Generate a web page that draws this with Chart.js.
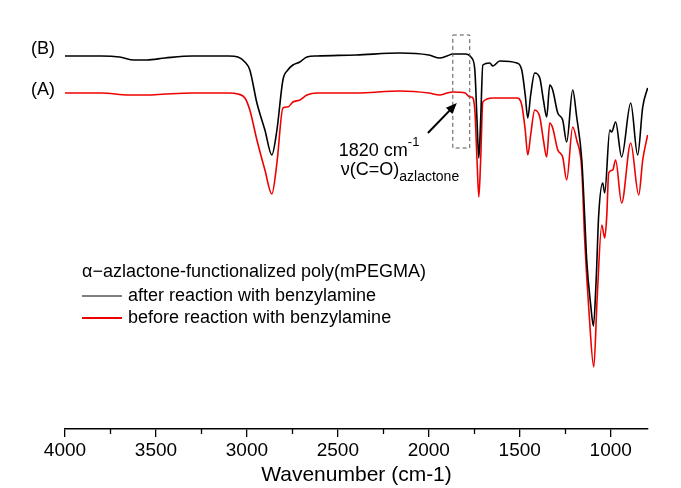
<!DOCTYPE html>
<html lang="en">
<head>
<meta charset="UTF-8">
<title>FTIR spectra</title>
<script src="https://cdn.jsdelivr.net/npm/chart.js"></script>
<style>
    body { margin: 0; background: #fff; }
    #wrap { width: 681px; height: 488px; }
</style>
</head>
<body>
<div id="wrap"><canvas id="myChart"></canvas></div>
<script>
    // (B) after reaction with benzylamine
    var wnB = [4000, 3800, 3700, 3620, 3550, 3450, 3300, 3100, 3049, 3011, 2984, 2945, 2901, 2863, 2835, 2802, 2775, 2747, 2709, 2670, 2615, 2400, 2159, 2000, 1940, 1900, 1868, 1800, 1764, 1747, 1735, 1725, 1715, 1703, 1665, 1648, 1610, 1516, 1489, 1470, 1456, 1440, 1418, 1390, 1370, 1352, 1335, 1319, 1291, 1264, 1242, 1209, 1187, 1159, 1143, 1132, 1110, 1095, 1080, 1066, 1044, 1033, 1005, 995, 973, 940, 890, 852, 824, 797];
    var tB = [93.25, 93.25, 93.0, 92.25, 92.25, 92.75, 93.25, 93.25, 93.0, 91.75, 89.75, 81.5, 74.75, 68.5, 74.75, 87.25, 89.75, 91.0, 91.75, 93.0, 93.25, 93.5, 94.0, 93.5, 92.75, 93.25, 93.75, 93.75, 92.75, 89.75, 77.25, 67.75, 77.25, 91.0, 91.5, 90.75, 92.0, 91.5, 89.75, 83.5, 77.75, 83.5, 89.0, 87.75, 82.25, 78.0, 86.0, 84.75, 79.0, 77.25, 71.75, 84.75, 78.0, 67.25, 53.0, 42.25, 31.0, 25.75, 37.25, 53.5, 61.5, 59.0, 74.75, 74.25, 76.75, 68.0, 81.5, 68.5, 80.5, 85.25];

    // (A) before reaction with benzylamine
    var wnA = [4000, 3800, 3650, 3550, 3450, 3300, 3100, 3049, 3011, 2984, 2945, 2901, 2863, 2835, 2802, 2775, 2747, 2709, 2670, 2615, 2400, 2159, 2000, 1940, 1900, 1868, 1800, 1775, 1764, 1747, 1735, 1725, 1715, 1703, 1648, 1516, 1489, 1470, 1456, 1440, 1418, 1390, 1370, 1352, 1335, 1319, 1291, 1264, 1242, 1209, 1187, 1159, 1143, 1120, 1093, 1075, 1049, 1033, 1022, 1011, 989, 973, 940, 890, 846, 824, 797];
    var tA = [84.0, 84.0, 83.5, 83.5, 83.75, 84.0, 84.0, 83.75, 82.75, 79.75, 72.25, 64.75, 58.75, 66.5, 80.25, 80.5, 81.75, 82.25, 83.5, 84.0, 84.0, 84.5, 84.0, 83.5, 84.0, 84.25, 84.0, 83.0, 83.0, 79.75, 67.25, 58.0, 67.25, 81.75, 82.75, 82.75, 81.0, 74.75, 68.5, 73.5, 79.75, 78.0, 72.25, 68.0, 76.5, 75.25, 69.75, 68.0, 62.25, 75.5, 72.25, 64.75, 47.25, 29.75, 15.5, 32.25, 51.0, 47.75, 53.0, 64.0, 64.75, 67.25, 56.5, 71.5, 58.5, 67.25, 73.5];

    var xTicks = [4000, 3500, 3000, 2500, 2000, 1500, 1000];
    var xMinor = [3750, 3250, 2750, 2250, 1750, 1250];

    var FONT = "'Liberation Sans', Arial, sans-serif";

    function pts(xs, ys) {
        return xs.map(function (v, i) { return {x: v, y: ys[i]}; });
    }

    // minor ticks, (A)/(B) tags, 1820 annotation and the legend
    const extras = {
        id: 'extras',
        afterDraw(chart) {
            const ctx = chart.ctx;
            const x = chart.scales.x, y = chart.scales.y;
            const area = chart.chartArea;
            ctx.save();

            // minor ticks
            ctx.strokeStyle = '#000';
            ctx.lineWidth = 1.3;
            xMinor.forEach(function (v) {
                const p = Math.round(x.getPixelForValue(v)) + 0.5;
                ctx.beginPath();
                ctx.moveTo(p, area.bottom);
                ctx.lineTo(p, area.bottom + 5);
                ctx.stroke();
            });

            // (B) / (A)
            ctx.fillStyle = '#000';
            ctx.font = '18px ' + FONT;
            ctx.textAlign = 'center';
            ctx.textBaseline = 'middle';
            ctx.fillText('(B)', x.getPixelForValue(4000) - 22, y.getPixelForValue(tB[0]) - 7);
            ctx.fillText('(A)', x.getPixelForValue(4000) - 22, y.getPixelForValue(tA[0]) - 3);

            // dashed box around 1820
            ctx.strokeStyle = '#555';
            ctx.lineWidth = 1;
            ctx.setLineDash([4, 3]);
            const bx0 = x.getPixelForValue(1868), bx1 = x.getPixelForValue(1775);
            const by0 = y.getPixelForValue(98.5), by1 = y.getPixelForValue(70.25);
            ctx.strokeRect(bx0, by0, bx1 - bx0, by1 - by0);
            ctx.setLineDash([]);

            // arrow
            const ax0 = x.getPixelForValue(2005), ay0 = y.getPixelForValue(74);
            const ax1 = x.getPixelForValue(1846), ay1 = y.getPixelForValue(81.5);
            const ang = Math.atan2(ay1 - ay0, ax1 - ax0);
            ctx.strokeStyle = '#000';
            ctx.lineWidth = 2;
            ctx.beginPath();
            ctx.moveTo(ax0, ay0);
            ctx.lineTo(ax1 - 6 * Math.cos(ang), ay1 - 6 * Math.sin(ang));
            ctx.stroke();
            ctx.beginPath();
            ctx.moveTo(ax1, ay1);
            ctx.lineTo(ax1 - 11 * Math.cos(ang) + 4.5 * Math.sin(ang), ay1 - 11 * Math.sin(ang) - 4.5 * Math.cos(ang));
            ctx.lineTo(ax1 - 11 * Math.cos(ang) - 4.5 * Math.sin(ang), ay1 - 11 * Math.sin(ang) + 4.5 * Math.cos(ang));
            ctx.closePath();
            ctx.fill();

            // annotation text
            const tx = x.getPixelForValue(2495);
            ctx.textAlign = 'left';
            ctx.font = '18px ' + FONT;
            ctx.fillText('1820 cm', tx, 151);
            let w = ctx.measureText('1820 cm').width;
            ctx.font = '13px ' + FONT;
            ctx.fillText('-1', tx + w, 142);
            ctx.font = '18px ' + FONT;
            ctx.fillText('\u03bd(C=O)', tx + 2, 170);
            w = ctx.measureText('\u03bd(C=O)').width;
            ctx.font = '14px ' + FONT;
            ctx.fillText('azlactone', tx + 2 + w, 177);

            // legend
            const lx = area.left + 17;
            ctx.font = '18px ' + FONT;
            ctx.fillText('\u03b1\u2212azlactone-functionalized poly(mPEGMA)', lx, 272);
            chart.data.datasets.forEach(function (ds, i) {
                const ly = 296 + i * 22;
                ctx.strokeStyle = ds.borderColor;
                ctx.lineWidth = i === 0 ? 1 : 2;
                ctx.beginPath();
                ctx.moveTo(lx, ly);
                ctx.lineTo(lx + 40, ly);
                ctx.stroke();
                ctx.fillText(ds.label, lx + 46, ly);
            });
            ctx.restore();
        }
    };

    new Chart('myChart', {
        type: 'line',
        data: {
            datasets: [{
                label: 'after reaction with benzylamine',
                data: pts(wnB, tB),
                borderColor: '#000',
                borderWidth: 1.6,
                pointRadius: 0,
                cubicInterpolationMode: 'monotone'
            }, {
                label: 'before reaction with benzylamine',
                data: pts(wnA, tA),
                borderColor: '#ee0000',
                borderWidth: 1.6,
                pointRadius: 0,
                cubicInterpolationMode: 'monotone'
            }]
        },
        options: {
            responsive: true,
            maintainAspectRatio: false,
            animation: false,
            layout: {padding: {top: 29, left: 65, right: 33, bottom: 0}},
            plugins: {legend: {display: false}, tooltip: {enabled: false}},
            scales: {
                x: {
                    type: 'linear',
                    reverse: true,
                    min: 795,
                    max: 4000,
                    afterBuildTicks: function (s) {
                        s.ticks = xTicks.map(function (v) { return {value: v}; });
                    },
                    afterFit: function (s) { s.height = 59; },
                    ticks: {
                        color: '#000', font: {family: FONT, size: 19}, padding: 2, maxRotation: 0, autoSkip: false,
                        callback: function (v) { return String(v); }
                    },
                    grid: {drawOnChartArea: false, tickLength: 8, color: '#000', lineWidth: 1.3},
                    border: {display: true, color: '#000', width: 1.5},
                    title: {display: true, text: 'Wavenumber (cm-1)', color: '#000', font: {family: FONT, size: 21}, padding: 0}
                },
                y: {display: false, min: 0, max: 100}
            }
        },
        plugins: [extras]
    });
</script>
</body>
</html>
